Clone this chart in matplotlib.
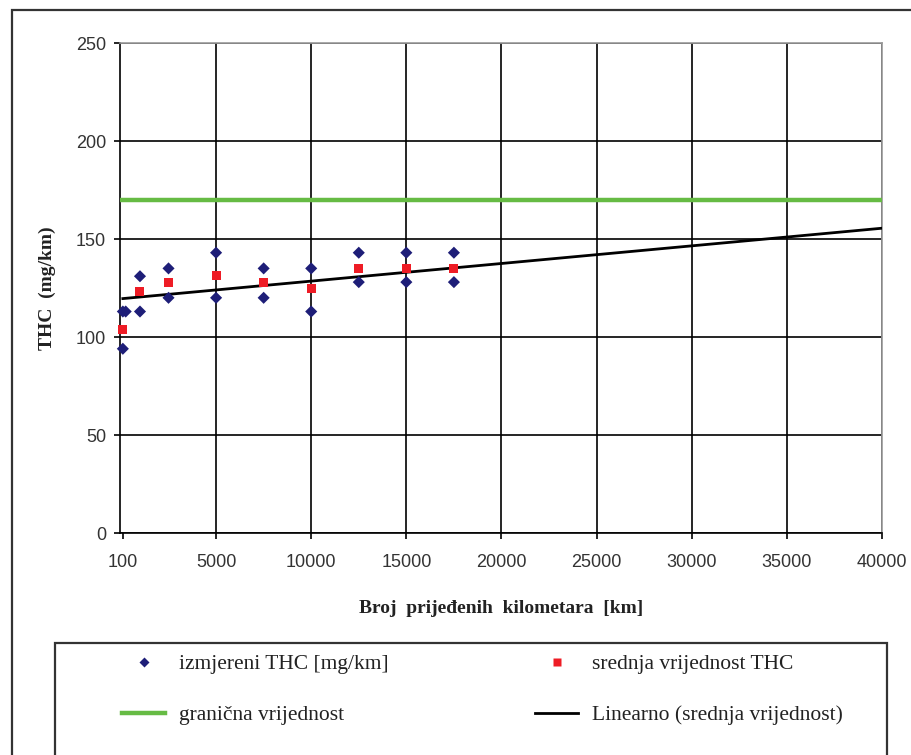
import matplotlib
matplotlib.use("Agg")
import matplotlib.pyplot as plt
from matplotlib.lines import Line2D
from matplotlib.patches import Rectangle

# ── data ─────────────────────────────────────────────────────────────────────
meas_km = [100, 250, 100, 1000, 1000, 2500, 2500, 5000, 5000, 7500, 7500,
           10000, 10000, 12500, 12500, 15000, 15000, 17500, 17500]
meas_thc = [113, 113, 94, 131, 113, 135, 120, 143, 120, 135, 120,
            135, 113, 143, 128, 143, 128, 143, 128]

mean_km = [100, 1000, 2500, 5000, 7500, 10000, 12500, 15000, 17500]
mean_thc = [103.6, 123, 128, 131.5, 128, 124.5, 135, 135, 135]

limit_thc = 170
trend_km = [100, 40000]
trend_thc = [119.6, 155.5]

x_ticks = [100, 5000, 10000, 15000, 20000, 25000, 30000, 35000, 40000]
y_ticks = [0, 50, 100, 150, 200, 250]

labels = ["izmjereni THC [mg/km]", "srednja vrijednost THC",
          "granična vrijednost", "Linearno (srednja vrijednost)"]

SERIF = "Liberation Serif"
SANS = "Liberation Sans"

W, H = 912, 755
fig = plt.figure(figsize=(W / 100, H / 100), dpi=100)
ax = fig.add_axes([120 / W, (H - 533) / H, (882 - 120) / W, (533 - 43) / H])

ax.plot(trend_km, trend_thc, color="black", lw=2.0, zorder=3)
ax.axhline(limit_thc, color="#66BB44", lw=3.2, zorder=3)
ax.scatter(meas_km, meas_thc, marker="D", s=38, color="#1E1E78",
           edgecolors="none", zorder=4, clip_on=False)
ax.scatter(mean_km, mean_thc, marker="s", s=42, color="#EE1C25",
           edgecolors="none", zorder=5, clip_on=False)

ax.set_xlim(-50, 40000)
ax.set_ylim(0, 250)
ax.set_xticks(x_ticks)
ax.set_yticks(y_ticks)
ax.grid(True, color="black", lw=1.2)
ax.xaxis.get_gridlines()[0].set_visible(False)   # sits on the left spine
ax.set_axisbelow(True)
for side in ["left", "bottom"]:
    ax.spines[side].set_color("black")
    ax.spines[side].set_linewidth(1.2)
for side in ["top", "right"]:
    ax.spines[side].set_color("#9a9a9a")
    ax.spines[side].set_linewidth(1.2)
    ax.spines[side].set_zorder(2.5)

ax.tick_params(axis="both", direction="out", length=4, width=1.2,
               colors="black", labelcolor="#333333")
ax.tick_params(axis="y", pad=6)
ax.tick_params(axis="x", pad=11)
for lab in ax.get_xticklabels() + ax.get_yticklabels():
    lab.set_fontfamily(SANS)
    lab.set_fontsize(13)

ax.set_xlabel("Broj  prijeđenih  kilometara  [km]", fontfamily=SERIF,
              fontweight="bold", fontsize=14, color="#222222", labelpad=21)
ax.set_ylabel("THC  (mg/km)", fontfamily=SERIF, fontweight="bold",
              fontsize=14, color="#222222", labelpad=14)

# ── outer frame and legend frame ─────────────────────────────────────────────
fig.patches.append(Rectangle((12 / W, -0.1), 1.2, (H - 10) / H + 0.1,
                             transform=fig.transFigure, fill=False,
                             edgecolor="#333333", lw=1.6))
fig.patches.append(Rectangle((55 / W, -0.1), (887 - 55) / W, (H - 643) / H + 0.1,
                             transform=fig.transFigure, fill=False,
                             edgecolor="#333333", lw=1.6))

h_meas = Line2D([], [], ls="none", marker="D", ms=5, color="#1E1E78", mec="none")
h_mean = Line2D([], [], ls="none", marker="s", ms=5.5, color="#EE1C25", mec="none")
h_lim = Line2D([], [], color="#66BB44", lw=3.2)
h_trend = Line2D([], [], color="black", lw=2.0)

leg_kw = dict(loc="upper left", frameon=False, borderpad=0, borderaxespad=0,
              handlelength=2.0, handletextpad=0.65, labelspacing=1.45,
              prop={"family": SERIF, "size": 15.5})
fig.legend([h_meas, h_lim], [labels[0], labels[2]],
           bbox_to_anchor=(122 / W, (H - 654) / H), labelcolor="#222222", **leg_kw)
fig.legend([h_mean, h_trend], [labels[1], labels[3]],
           bbox_to_anchor=(535 / W, (H - 654) / H), labelcolor="#222222", **leg_kw)

fig.savefig("out.png", dpi=100)
